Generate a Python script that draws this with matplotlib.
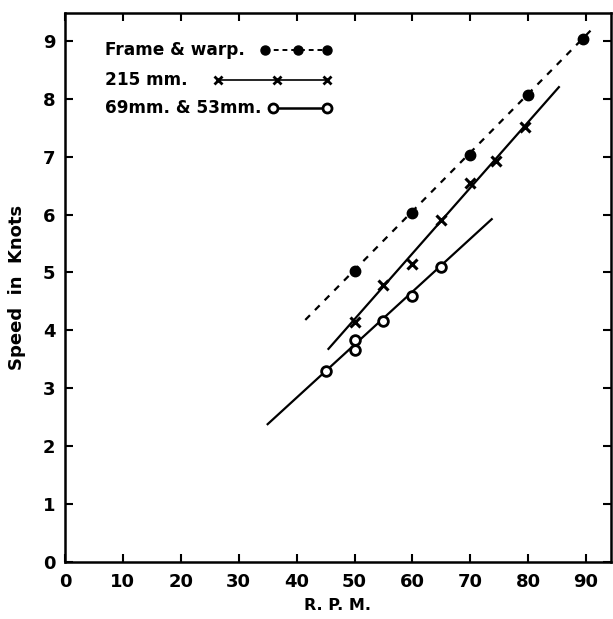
import matplotlib
matplotlib.use("Agg")
import matplotlib.pyplot as plt

# ---- data ----
frame_rpm = [50, 60, 70, 80, 89.5]
frame_speed = [5.03, 6.02, 7.02, 8.07, 9.03]
frame_fit_rpm = [41.5, 91.5]
frame_fit_speed = [4.18, 9.25]

mm215_rpm = [50, 55, 60, 65, 70, 74.5, 79.5]
mm215_speed = [4.15, 4.78, 5.15, 5.90, 6.54, 6.92, 7.52]
mm215_fit_rpm = [45.5, 85.3]
mm215_fit_speed = [3.68, 8.20]

mm69_rpm = [45, 50, 50, 55, 60, 65]
mm69_speed = [3.29, 3.83, 3.66, 4.16, 4.60, 5.10]
mm69_fit_rpm = [35.0, 73.7]
mm69_fit_speed = [2.38, 5.92]

x_ticks = [0, 10, 20, 30, 40, 50, 60, 70, 80, 90]
y_ticks = [0, 1, 2, 3, 4, 5, 6, 7, 8, 9]
x_label = "R. P. M."
y_label = "Speed  in  Knots"
legend_labels = ["Frame & warp.", "215 mm.", "69mm. & 53mm."]

plt.rcParams['font.family'] = ['DejaVu Sans']
plt.rcParams['font.weight'] = 'bold'

fig = plt.figure(figsize=(6.13, 6.19), dpi=100)
ax = fig.add_axes([65/613, (619-562)/619, (611-65)/613, (562-13)/619])

lw = 1.6
# fitted lines
ax.plot(frame_fit_rpm, frame_fit_speed, color='black', lw=lw, ls=(0, (3, 3.2)))
ax.plot(mm215_fit_rpm, mm215_fit_speed, color='black', lw=lw)
ax.plot(mm69_fit_rpm, mm69_fit_speed, color='black', lw=lw)

# points
ax.plot(frame_rpm, frame_speed, ls='none', marker='o', ms=7.5, color='black')
ax.plot(mm215_rpm, mm215_speed, ls='none', marker='x', ms=7.5, mew=2.2, color='black')
ax.plot(mm69_rpm, mm69_speed, ls='none', marker='o', ms=7, mfc='white', mec='black', mew=2.0)

# hand-drawn style legend (axes-fraction coordinates)
tr = ax.transAxes
rows_y = [0.9326, 0.878, 0.827]
text_x = 0.073
for ry, lab in zip(rows_y, legend_labels):
    ax.text(text_x, ry, lab, transform=tr, fontsize=12.2,
            fontweight='bold', va='center', ha='left')
ax.plot([0.366, 0.427, 0.480], [rows_y[0]] * 3, transform=tr, color='black',
        lw=1.4, ls=(0, (2.5, 2)), marker='o', ms=6.5, clip_on=False)
ax.plot([0.280, 0.388, 0.480], [rows_y[1]] * 3, transform=tr, color='black',
        lw=1.2, marker='x', ms=6, mew=2, clip_on=False)
ax.plot([0.381, 0.480], [rows_y[2]] * 2, transform=tr, color='black',
        lw=1.8, marker='o', ms=6.5, mfc='white', mew=2, clip_on=False)

ax.set_xlim(0, 94.3)
ax.set_ylim(0, 9.48)
ax.set_xticks(x_ticks)
ax.set_yticks(y_ticks)
ax.set_xticklabels([str(v) for v in x_ticks], fontsize=13, fontweight='bold')
ax.set_yticklabels([str(v) for v in y_ticks], fontsize=13, fontweight='bold')
ax.tick_params(direction='in', length=6, width=1.5, top=True, right=True)
ax.tick_params(axis='x', pad=8)
ax.tick_params(axis='y', pad=7)
for s in ax.spines.values():
    s.set_linewidth(1.8)

ax.set_xlabel(x_label, fontsize=11.5, fontweight='bold', labelpad=5)
ax.set_ylabel(y_label, fontsize=13, fontweight='bold', labelpad=12)

fig.savefig("out.png", dpi=100)
